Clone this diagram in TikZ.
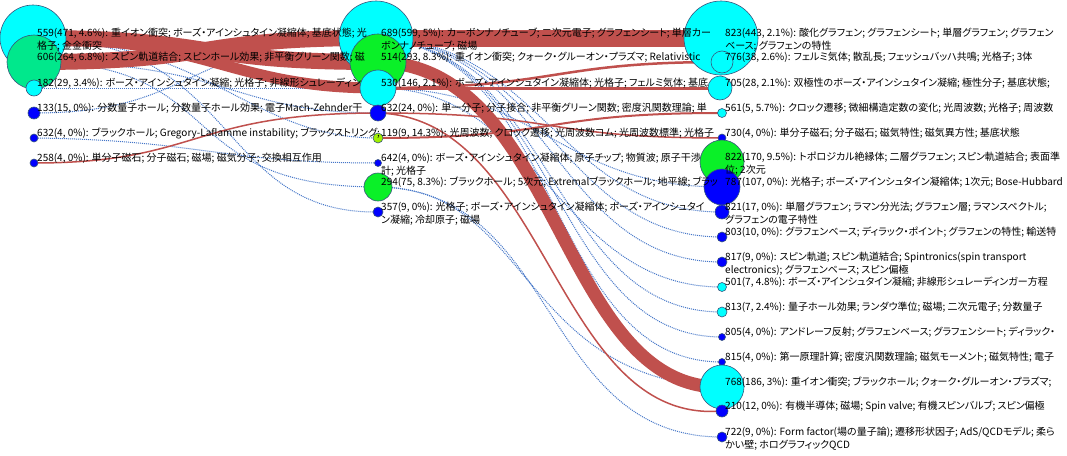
\documentclass[tikz,border=0pt]{standalone}
\usepackage{fontspec}
\setmainfont{Noto Sans CJK JP}[RawFeature=+palt]
\pgfdeclarelayer{bg}
\pgfsetlayers{bg,main}
\definecolor{ccyan}{RGB}{0,255,255}
\definecolor{cblue}{RGB}{0,0,255}
\definecolor{cgreen}{RGB}{10,240,40}
\definecolor{cmint}{RGB}{0,232,140}
\definecolor{cyg}{RGB}{160,240,0}
\definecolor{cred}{RGB}{192,80,77}
\definecolor{cdot}{RGB}{68,118,200}
\definecolor{ndline}{RGB}{55,85,125}
\begin{document}
\begin{tikzpicture}[x=1pt,y=-1pt,
  nd/.style={circle,inner sep=0pt,draw=ndline,line width=0.6pt,minimum size=#1},
  cy/.style={nd=#1,fill=ccyan},
  bl/.style={nd=#1,fill=cblue},
  gr/.style={nd=#1,fill=cgreen},
  mi/.style={nd=#1,fill=cmint},
  yg/.style={nd=#1,fill=cyg},
  lab/.style={anchor=base west,inner sep=0pt,font=\fontsize{10}{13}\selectfont},
  band/.style={draw=cred,line width=#1},
  dotl/.style={draw=cdot,line width=1pt,dash pattern=on 1pt off 1pt}]
\useasboundingbox (0,0) rectangle (1067,455);
% left column
\node[cy=66pt] (n559) at (33,38) {};
\node[mi=54pt] (n606) at (34,62) {};
\node[cy=16pt] (n182) at (34,88) {};
\node[bl=12pt] (n133) at (34,113) {};
\node[bl=8pt] (n632a) at (34,138) {};
\node[bl=8pt] (n258) at (34,163) {};
% middle column
\node[cy=74pt] (n689) at (376,38) {};
\node[gr=56pt] (n514) at (378,62) {};
\node[cy=36pt] (n530) at (378,88) {};
\node[bl=16pt] (n632b) at (378,113) {};
\node[yg=10pt] (n119) at (378,138) {};
\node[bl=7pt] (n642) at (378,163) {};
\node[gr=28pt] (n294) at (378,187) {};
\node[bl=10pt] (n357) at (378,212) {};
% right column
\node[cy=74pt] (n823) at (721,38) {};
\node[cy=22pt] (n776) at (722,62) {};
\node[cy=24pt] (n705) at (720,88) {};
\node[cy=9pt] (n561) at (722,113) {};
\node[bl=8pt] (n730) at (722,138) {};
\node[gr=44pt] (n822) at (722,162) {};
\node[bl=36pt] (n787) at (722,187) {};
\node[bl=14pt] (n821) at (722,212) {};
\node[bl=10pt] (n803) at (722,237) {};
\node[bl=10pt] (n817) at (722,262) {};
\node[cy=9pt] (n501) at (722,287) {};
\node[cy=10pt] (n813) at (722,312) {};
\node[bl=7pt] (n805) at (722,337) {};
\node[bl=7pt] (n815) at (722,362) {};
\node[cy=44pt] (n768) at (722,387) {};
\node[bl=12pt] (n210) at (722,411) {};
\node[bl=10pt] (n722) at (722,437) {};
\begin{pgfonlayer}{bg}
\fill[white] (0,0) rectangle (1067,455);
% dotted links, left to middle
\draw[dotl] (n182.center) -- (n530.center);
\draw[dotl] (n559.center) .. controls (210,42) and (250,138) .. (n119.center);
\draw[dotl] (n606.center) .. controls (230,62) and (230,113) .. (n632b.center);
\draw[dotl] (n606.center) .. controls (230,62) and (170,187) .. (n294.center);
\draw[dotl] (n559.center) .. controls (240,38) and (215,214) .. (n357.center);
\draw[dotl] (n632a.center) .. controls (200,140) and (220,163) .. (n642.center);
\draw[dotl] (n133.center) .. controls (200,113) and (180,40) .. (n689.center);
% dotted links, middle to right
\draw[dotl] (n689.center) .. controls (540,40) and (560,212) .. (n821.center);
\draw[dotl] (n689.center) .. controls (545,42) and (560,237) .. (n803.center);
\draw[dotl] (n689.center) .. controls (550,44) and (555,262) .. (n817.center);
\draw[dotl] (n689.center) .. controls (555,46) and (550,312) .. (n813.center);
\draw[dotl] (n689.center) .. controls (560,48) and (550,337) .. (n805.center);
\draw[dotl] (n689.center) .. controls (565,50) and (545,362) .. (n815.center);
\draw[dotl] (n530.center) .. controls (540,88) and (560,287) .. (n501.center);
\draw[dotl] (n530.center) .. controls (540,88) and (560,187) .. (n787.center);
\draw[dotl] (n294.center) .. controls (530,187) and (520,380) .. (n768.center);
\draw[dotl] (n294.center) .. controls (560,190) and (540,437) .. (n722.center);
% thick bands
\draw[band=16pt] (n606.center) .. controls (220,62) and (190,38) .. (n689.center);
\draw[band=16pt] (n559.center) .. controls (220,38) and (190,62) .. (n514.center);
\draw[band=11pt] (n559.center) .. controls (210,38) and (230,88) .. (n530.center);
\draw[band=17pt] (n689.center) -- (n823.center);
\draw[band=13pt] (n514.center) .. controls (560,65) and (560,390) .. (n768.center);
% thin red links
\draw[band=3pt] (n530.center) -- (n705.center);
\draw[band=2.5pt] (n530.center) .. controls (560,88) and (550,62) .. (n776.center);
\draw[band=1.5pt] (n632b.center) .. controls (560,113) and (540,138) .. (n730.center);
\draw[band=2pt] (n119.center) .. controls (560,138) and (540,113) .. (n561.center);
\draw[band=1.5pt] (n258.center) .. controls (200,163) and (190,113) .. (n632b.center);
\draw[band=1.5pt] (n632b.center) .. controls (548,118) and (555,425) .. (n210.center);
\end{pgfonlayer}
% labels
\node[lab] (t559) at (37,36) {\vtop{\hbox{559(471, 4.6\%): 重イオン衝突; ボーズ・アインシュタイン凝縮体; 基底状態; 光}\hbox{格子; 金金衝突}}};
\node[lab] (t606) at (37,60) {606(264, 6.8\%): スピン軌道結合; スピンホール効果; 非平衡グリーン関数; 磁};
\node[lab] (t182) at (37,86) {182(29, 3.4\%): ボーズ・アインシュタイン凝縮; 光格子; 非線形シュレーディン};
\node[lab] (t133) at (37,111) {133(15, 0\%): 分数量子ホール; 分数量子ホール効果; 電子Mach-Zehnder干};
\node[lab] (t632a) at (37,136) {632(4, 0\%): ブラックホール; Gregory-Laflamme instability; ブラックストリング;};
\node[lab] (t258) at (37,161) {258(4, 0\%): 単分子磁石; 分子磁石; 磁場; 磁気分子; 交換相互作用};
\node[lab] (t689) at (381,36) {\vtop{\hbox{689(599, 5\%): カーボンナノチューブ; 二次元電子; グラフェンシート; 単層カー}\hbox{ボンナノチューブ; 磁場}}};
\node[lab] (t514) at (381,60) {514(293, 8.3\%): 重イオン衝突; クォーク・グルーオン・プラズマ; Relativistic};
\node[lab] (t530) at (381,86) {530(146, 2.1\%): ボーズ・アインシュタイン凝縮体; 光格子; フェルミ気体; 基底};
\node[lab] (t632b) at (381,111) {632(24, 0\%): 単一分子; 分子接合; 非平衡グリーン関数; 密度汎関数理論; 単};
\node[lab] (t119) at (381,136) {119(9, 14.3\%): 光周波数; クロック遷移; 光周波数コム; 光周波数標準; 光格子};
\node[lab] (t642) at (381,161) {\vtop{\hbox{642(4, 0\%): ボーズ・アインシュタイン凝縮体; 原子チップ; 物質波; 原子干渉}\hbox{計; 光格子}}};
\node[lab] (t294) at (381,185) {294(75, 8.3\%): ブラックホール; 5次元; Extremalブラックホール; 地平線; ブラッ};
\node[lab] (t357) at (381,210) {\vtop{\hbox{357(9, 0\%): 光格子; ボーズ・アインシュタイン凝縮体; ボーズ・アインシュタイ}\hbox{ン凝縮; 冷却原子; 磁場}}};
\node[lab] (t823) at (725,36) {\vtop{\hbox{823(443, 2.1\%): 酸化グラフェン; グラフェンシート; 単層グラフェン; グラフェン}\hbox{ベース; グラフェンの特性}}};
\node[lab] (t776) at (725,60) {776(38, 2.6\%): フェルミ気体; 散乱長; フェッシュバッハ共鳴; 光格子; 3体};
\node[lab] (t705) at (725,86) {705(28, 2.1\%): 双極性のボーズ・アインシュタイン凝縮; 極性分子; 基底状態;};
\node[lab] (t561) at (725,111) {561(5, 5.7\%): クロック遷移; 微細構造定数の変化; 光周波数; 光格子; 周波数};
\node[lab] (t730) at (725,136) {730(4, 0\%): 単分子磁石; 分子磁石; 磁気特性; 磁気異方性; 基底状態};
\node[lab] (t822) at (725,160) {\vtop{\hbox{822(170, 9.5\%): トポロジカル絶縁体; 二層グラフェン; スピン軌道結合; 表面準}\hbox{位; 2次元}}};
\node[lab] (t787) at (725,185) {787(107, 0\%): 光格子; ボーズ・アインシュタイン凝縮体; 1次元; Bose-Hubbard};
\node[lab] (t821) at (725,210) {\vtop{\hbox{821(17, 0\%): 単層グラフェン; ラマン分光法; グラフェン層; ラマンスペクトル;}\hbox{グラフェンの電子特性}}};
\node[lab] (t803) at (725,235) {803(10, 0\%): グラフェンベース; ディラック・ポイント; グラフェンの特性; 輸送特};
\node[lab] (t817) at (725,260) {\vtop{\hbox{817(9, 0\%): スピン軌道; スピン軌道結合; Spintronics(spin transport}\hbox{electronics); グラフェンベース; スピン偏極}}};
\node[lab] (t501) at (725,285) {501(7, 4.8\%): ボーズ・アインシュタイン凝縮; 非線形シュレーディンガー方程};
\node[lab] (t813) at (725,310) {813(7, 2.4\%): 量子ホール効果; ランダウ準位; 磁場; 二次元電子; 分数量子};
\node[lab] (t805) at (725,335) {805(4, 0\%): アンドレーフ反射; グラフェンベース; グラフェンシート; ディラック・};
\node[lab] (t815) at (725,360) {815(4, 0\%): 第一原理計算; 密度汎関数理論; 磁気モーメント; 磁気特性; 電子};
\node[lab] (t768) at (725,385) {768(186, 3\%): 重イオン衝突; ブラックホール; クォーク・グルーオン・プラズマ;};
\node[lab] (t210) at (725,409) {210(12, 0\%): 有機半導体; 磁場; Spin valve; 有機スピンバルブ; スピン偏極};
\node[lab] (t722) at (725,435) {\vtop{\hbox{722(9, 0\%): Form factor(場の量子論); 遷移形状因子; AdS/QCDモデル; 柔ら}\hbox{かい壁; ホログラフィックQCD}}};
\end{tikzpicture}
\end{document}
